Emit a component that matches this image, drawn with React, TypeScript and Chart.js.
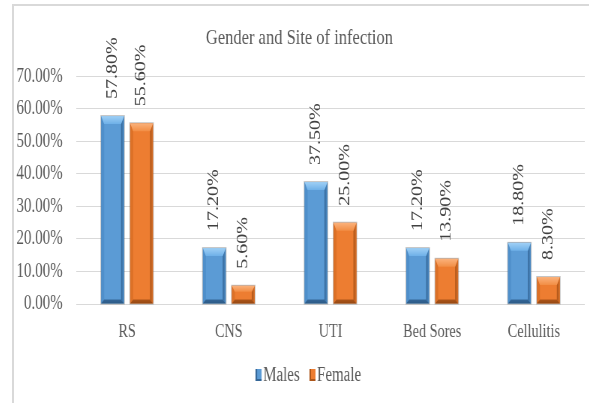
import React, { useEffect, useRef } from 'react';
import { Chart, registerables } from 'chart.js';

Chart.register(...registerables);

const SERIF = '"Liberation Serif", "Times New Roman", serif';
Chart.defaults.font.family = SERIF;

const categories = ['RS', 'CNS', 'UTI', 'Bed Sores', 'Cellulitis'];
const males = [57.8, 17.2, 37.5, 17.2, 18.8];
const female = [55.6, 5.6, 25.0, 13.9, 8.3];
const seriesNames = ['Males', 'Female'];
const seriesColors = ['#5b9bd5', '#ed7d31'];
const yMin = 0;
const yMax = 70;
const yStep = 10;
const titleText = 'Gender and Site of infection';

const bevelColors = [
  { light: '#9fd0f6', mid: '#6eb0e8', left: '#4f8fca', dark: '#356798', bottom: '#2c5a86' },
  { light: '#fbb27c', mid: '#f28e45', left: '#dc7127', dark: '#ad561a', bottom: '#954812' },
];

function drawBevelRect(ctx: any, l: number, t: number, r: number, b: number, c: any, bs: number, bt: number, bb: number) {
  ctx.fillStyle = c.left;
  ctx.beginPath();
  ctx.moveTo(l, t);
  ctx.lineTo(l + bs, t + bt);
  ctx.lineTo(l + bs, b - bb);
  ctx.lineTo(l, b);
  ctx.closePath();
  ctx.fill();
  const gr = ctx.createLinearGradient(r - bs, 0, r, 0);
  gr.addColorStop(0, c.dark);
  gr.addColorStop(1, c.left);
  ctx.fillStyle = gr;
  ctx.beginPath();
  ctx.moveTo(r, t);
  ctx.lineTo(r - bs, t + bt);
  ctx.lineTo(r - bs, b - bb);
  ctx.lineTo(r, b);
  ctx.closePath();
  ctx.fill();
  const gb = ctx.createLinearGradient(0, b - bb, 0, b);
  gb.addColorStop(0, c.dark);
  gb.addColorStop(1, c.bottom);
  ctx.fillStyle = gb;
  ctx.beginPath();
  ctx.moveTo(l, b);
  ctx.lineTo(l + bs, b - bb);
  ctx.lineTo(r - bs, b - bb);
  ctx.lineTo(r, b);
  ctx.closePath();
  ctx.fill();
  const g = ctx.createLinearGradient(0, t, 0, t + bt);
  g.addColorStop(0, c.light);
  g.addColorStop(1, c.mid);
  ctx.fillStyle = g;
  ctx.beginPath();
  ctx.moveTo(l, t);
  ctx.lineTo(r, t);
  ctx.lineTo(r - bs, t + bt);
  ctx.lineTo(l + bs, t + bt);
  ctx.closePath();
  ctx.fill();
  ctx.strokeStyle = 'rgba(60,60,60,0.3)';
  ctx.lineWidth = 1;
  ctx.strokeRect(l - 0.5, t - 0.5, r - l + 1, b - t + 1);
}

const bevelPlugin = {
  id: 'bevel',
  afterDatasetsDraw(chart: any) {
    const ctx = chart.ctx;
    chart.data.datasets.forEach((_ds: any, di: number) => {
      const meta = chart.getDatasetMeta(di);
      if (meta.hidden) return;
      const c = bevelColors[di];
      meta.data.forEach((el: any) => {
        const { x, y, base, width } = el.getProps(['x', 'y', 'base', 'width'], true);
        const l = x - width / 2;
        const r = x + width / 2;
        const t = Math.min(y, base);
        const b = Math.max(y, base);
        const h = b - t;
        ctx.save();
        drawBevelRect(ctx, l, t, r, b, c, Math.min(4, width / 4), Math.min(8, h / 3), Math.min(4, h / 4));
        ctx.restore();
      });
    });
  },
};

const valueLabelPlugin = {
  id: 'valueLabels',
  afterDatasetsDraw(chart: any) {
    const ctx = chart.ctx;
    chart.data.datasets.forEach((ds: any, di: number) => {
      const meta = chart.getDatasetMeta(di);
      if (meta.hidden) return;
      meta.data.forEach((el: any, i: number) => {
        const v = ds.data[i];
        ctx.save();
        ctx.translate(el.x, el.y - 17);
        ctx.rotate(-Math.PI / 2);
        ctx.font = `20px ${SERIF}`;
        ctx.fillStyle = '#404040';
        ctx.textAlign = 'left';
        ctx.textBaseline = 'middle';
        ctx.fillText(v.toFixed(2) + '%', 0, 0);
        ctx.restore();
      });
    });
  },
};

const legendPlugin = {
  id: 'customLegend',
  afterDraw(chart: any) {
    const ctx = chart.ctx;
    ctx.save();
    ctx.font = `20px ${SERIF}`;
    ctx.textBaseline = 'middle';
    ctx.textAlign = 'left';
    const boxW = 8;
    const boxH = 12;
    const textGap = 2;
    const itemGap = 13;
    const items = chart.data.datasets.map((ds: any) => ({
      text: ds.label,
      color: ds.backgroundColor,
      w: ctx.measureText(ds.label).width,
    }));
    const total = items.reduce((s: number, it: any) => s + boxW + textGap + it.w, 0) + itemGap * (items.length - 1);
    let x = chart.width / 2 + 4 - total / 2;
    const cy = 369;
    items.forEach((it: any, i: number) => {
      const c = bevelColors[i];
      ctx.fillStyle = it.color;
      ctx.fillRect(x, cy - boxH / 2, boxW, boxH);
      ctx.fillStyle = c.dark;
      ctx.fillRect(x, cy - boxH / 2, 2, boxH);
      ctx.fillRect(x, cy + boxH / 2 - 2, boxW, 2);
      ctx.fillStyle = '#595959';
      ctx.fillText(it.text, x + boxW + textGap, cy + 1);
      x += boxW + textGap + it.w + itemGap;
    });
    ctx.restore();
  },
};

export default function App() {
  const canvasRef = useRef<HTMLCanvasElement | null>(null);

  useEffect(() => {
    if (!canvasRef.current) return;
    const chart = new Chart(canvasRef.current, {
      type: 'bar',
      data: {
        labels: categories,
        datasets: [
          {
            label: seriesNames[0],
            data: males,
            backgroundColor: seriesColors[0],
            borderWidth: 0,
            categoryPercentage: 0.57,
            barPercentage: 0.79,
          },
          {
            label: seriesNames[1],
            data: female,
            backgroundColor: seriesColors[1],
            borderWidth: 0,
            categoryPercentage: 0.57,
            barPercentage: 0.79,
          },
        ],
      },
      options: {
        animation: false,
        responsive: false,
        maintainAspectRatio: false,
        devicePixelRatio: 1,
        layout: { padding: { left: 0, right: 16, top: 0, bottom: 46 } },
        plugins: {
          title: {
            display: true,
            text: titleText,
            color: '#595959',
            font: { size: 22, weight: 'normal', family: SERIF },
            padding: { top: 19, bottom: 25 },
          },
          legend: { display: false },
          tooltip: { enabled: false },
        },
        scales: {
          x: {
            grid: { display: false, drawTicks: false },
            border: { display: false },
            ticks: {
              color: '#595959',
              font: { size: 19, family: SERIF },
              padding: 17,
            },
            afterFit: (s: any) => {
              s.height = 53;
            },
          },
          y: {
            min: yMin,
            max: yMax,
            grid: { color: '#d9d9d9', lineWidth: 1, drawTicks: false },
            border: { display: false },
            ticks: {
              stepSize: yStep,
              color: '#595959',
              font: { size: 20, family: SERIF },
              padding: 18,
              callback: (v: any) => Number(v).toFixed(2) + '%',
            },
            afterFit: (s: any) => {
              s.width = 83;
            },
          },
        },
      },
      plugins: [bevelPlugin, valueLabelPlugin, legendPlugin],
    } as any);
    return () => chart.destroy();
  }, []);

  return (
    <div style={{ position: 'absolute', left: 0, top: 0, width: 597, height: 403, background: '#fff', overflow: 'hidden' }}>
      <div
        style={{
          position: 'absolute',
          left: 12,
          top: 4,
          width: 575,
          height: 400,
          borderTop: '2px solid #d9d9d9',
          borderLeft: '2px solid #d9d9d9',
        }}
      />
      <div
        style={{
          position: 'absolute',
          left: 14,
          top: 6,
          width: 777,
          height: 397,
          transform: 'scaleX(0.75)',
          transformOrigin: '0 0',
        }}
      >
        <canvas ref={canvasRef} width={777} height={397} style={{ width: 777, height: 397, display: 'block' }} />
      </div>
    </div>
  );
}
